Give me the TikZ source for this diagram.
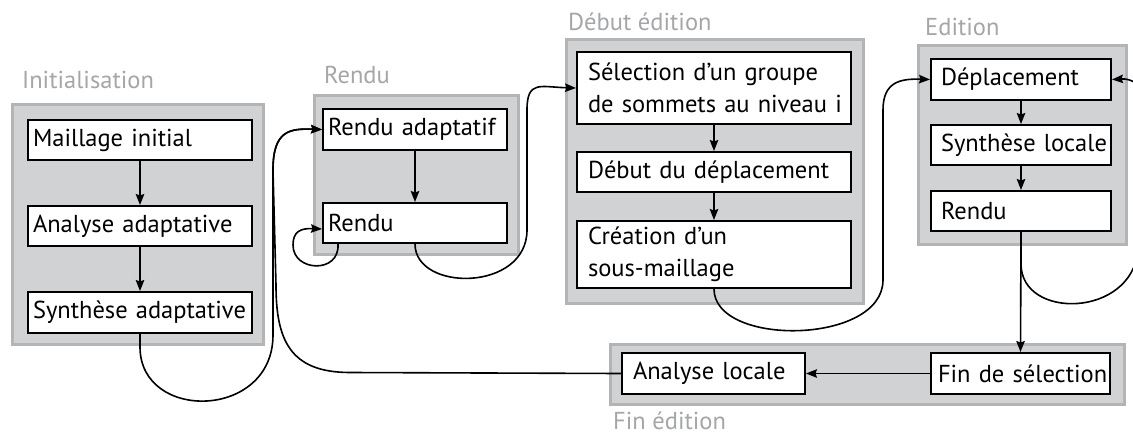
\documentclass[tikz,border=0pt]{standalone}
\usepackage{fontspec}
\setmainfont{PT Sans}
\usetikzlibrary{arrows.meta,calc}
\definecolor{grpfill}{HTML}{D1D2D4}
\definecolor{grpline}{HTML}{B3B4B6}
\definecolor{lblgray}{HTML}{A4A6A9}
\newcommand\bxfont{\fontsize{24.5}{32}\selectfont\hyphenpenalty=10000\exhyphenpenalty=10000}
\begin{document}
\begin{tikzpicture}[x=1pt,y=-1pt,
  grp/.style={draw=grpline, line width=3pt, fill=grpfill, anchor=north west, inner sep=0pt},
  box/.style={draw=black, line width=2pt, fill=white, anchor=north west, inner ysep=0pt, align=left, font=\bxfont},
  lbl/.style={text=lblgray, anchor=base west, inner sep=0pt, font=\bxfont},
  conn/.style={line width=1.6pt, -{Stealth[length=11pt,width=8.5pt,inset=1.5pt]}}
]
\clip (0,0) rectangle (1133,434);
\fill[white] (0,0) rectangle (1133,434);

% groups
\node[grp, minimum width=251, minimum height=240] (gI) at (11,103) {};
\node[grp, minimum width=204, minimum height=159] (gR) at (313,94) {};
\node[grp, minimum width=297, minimum height=264] (gD) at (565,38) {};
\node[grp, minimum width=208, minimum height=199] (gE) at (917,44) {};
\node[grp, minimum width=514, minimum height=60] (gF) at (609,343) {};

% group labels
\node[lbl] (lI) at (22,88) {Initialisation};
\node[lbl] (lR) at (324,83) {Rendu};
\node[lbl] (lD) at (568,30) {Début édition};
\node[lbl] (lE) at (925,35) {Edition};
\node[lbl] (lF) at (613,429) {Fin édition};

% boxes
\node[box, minimum height=40, text width=214, inner xsep=5] (mi) at (27,119) {Maillage~initial};
\node[box, minimum height=40, text width=214, inner xsep=5] (aa) at (27,205) {Analyse~adaptative};
\node[box, minimum height=41, text width=214, inner xsep=5] (sa) at (27,291) {Synthèse~adaptative};

\node[box, minimum height=41, text width=174, inner xsep=5] (ra) at (322,108) {Rendu~adaptatif};
\node[box, minimum height=40, text width=174, inner xsep=5] (r1) at (322,202) {Rendu};

\node[box, minimum height=72, text width=252, inner xsep=11] (sel) at (576,51) {Sélection~d'un~groupe\\de~sommets~au~niveau~i};
\node[box, minimum height=40, text width=252, inner xsep=11] (dd) at (576,151) {Début~du~déplacement};
\node[box, minimum height=67, text width=252, inner xsep=11] (cs) at (576,220) {Création d'un\\sous-maillage};

\node[box, minimum height=41, text width=160, inner xsep=10] (dep) at (930,58) {Déplacement};
\node[box, minimum height=40, text width=160, inner xsep=10] (sl) at (930,124) {Synthèse~locale};
\node[box, minimum height=40, text width=160, inner xsep=10] (r2) at (930,190) {Rendu};

\node[box, minimum height=41, text width=161, inner xsep=11] (al) at (621,352) {Analyse~locale};
\node[box, minimum height=41, text width=165, inner xsep=7] (fs) at (930,352) {Fin~de~sélection};

% straight connectors
\draw[conn] (mi) -- (aa);
\draw[conn] (aa) -- (sa);
\draw[conn] (ra) -- (r1);
\draw[conn] (sel) -- (dd);
\draw[conn] (dd) -- (cs);
\draw[conn] (dep) -- (sl);
\draw[conn] (sl) -- (r2);
\draw[conn] (r2.south) -- (fs.north);
\draw[conn] (fs.west) -- (al.east);

% curved connectors
\draw[conn] (sa.south) -- ++(0,13) .. controls ++(0,75) and (273,420) .. (273,335)
  -- (273,170) .. controls (273,130) and (290,128.5) .. (ra.west);
\draw[conn] (al.west) -- (350,372.5) .. controls (290,372.5) and (276,340) .. (276,285)
  -- (273,170) .. controls (273,130) and (290,128.5) .. (ra.west);
\draw[conn] ($(r1.south west)+(16,0)$) .. controls ++(2,30) and (293,272) .. (293,245)
  .. controls (293,232) and (300,228) .. ($(r1.west)+(0,6)$);
\draw[conn] (r1.south) .. controls ++(0,48) and (527,292) .. (527,230)
  -- (527,110) .. controls (527,80) and (540,87) .. (sel.west);
\draw[conn] (cs.south) .. controls ++(0,58) and (883,345) .. (883,280)
  -- (883,110) .. controls (883,82) and (900,78.5) .. (dep.west);
\draw[conn] (r2.south) -- ++(0,32) .. controls ++(0,56) and (1132,318) .. (1138,250)
  -- (1145,110) .. controls (1145,82) and (1130,78.5) .. (dep.east);
\end{tikzpicture}
\end{document}
